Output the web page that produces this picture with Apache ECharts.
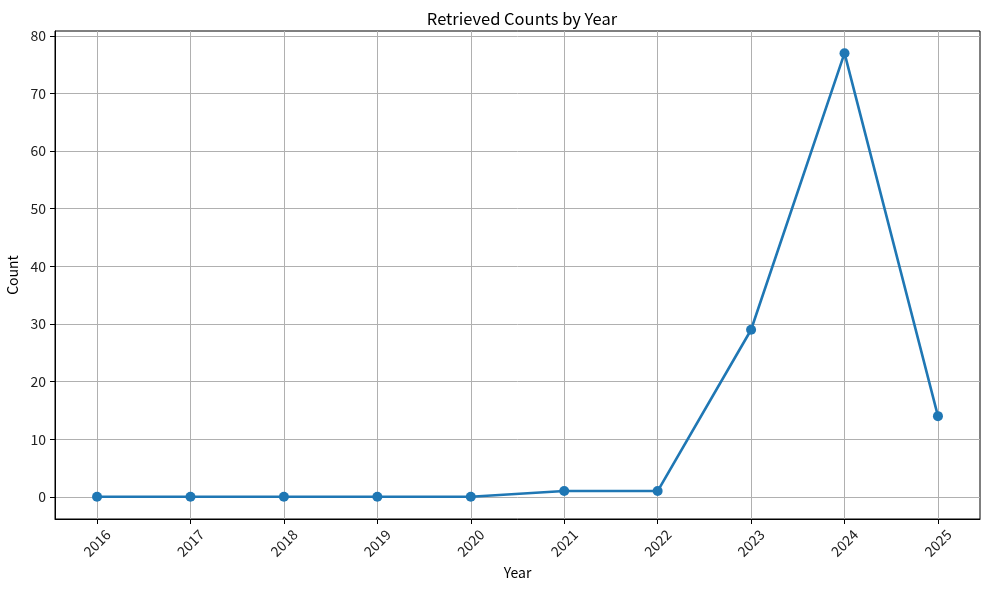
<!DOCTYPE html>
<html><head><meta charset="utf-8">
<script src="https://cdn.jsdelivr.net/npm/echarts@6/dist/echarts.min.js"></script>
<style>html,body{margin:0;padding:0;background:#fff}#c{width:989px;height:590px}</style>
</head><body><div id="c"></div>
<script>
const years = [2016, 2017, 2018, 2019, 2020, 2021, 2022, 2023, 2024, 2025];
const counts = [0, 0, 0, 0, 0, 1, 1, 29, 77, 14];
const yTicks = [0, 10, 20, 30, 40, 50, 60, 70, 80];
const titleText = 'Retrieved Counts by Year';
const xName = 'Year';
const yName = 'Count';

const FONT = '"Noto Sans CJK KR", "Noto Sans", sans-serif';
const chart = echarts.init(document.getElementById('c'), null, {renderer: 'canvas'});
const yMin = -3.85, yMax = 80.85;
chart.setOption({
  animation: false,
  backgroundColor: '#fff',
  title: {text: titleText, left: 517, top: 5, textAlign: 'center',
    textStyle: {fontFamily: FONT, fontSize: 16.5, fontWeight: 'normal', color: '#000'}},
  grid: {left: 55, right: 9, top: 31, bottom: 71, outerBoundsMode: 'none', containLabel: false,
    show: true, borderColor: '#000', borderWidth: 1, backgroundColor: 'transparent'},
  xAxis: {
    type: 'value', min: 2015.55, max: 2025.45,
    name: xName, nameLocation: 'middle', nameGap: 47,
    nameTextStyle: {fontFamily: FONT, fontSize: 14, color: '#000'},
    axisLine: {show: true, onZero: false, lineStyle: {color: '#000', width: 1}},
    axisTick: {show: true, length: 5, customValues: years, lineStyle: {color: '#000'}},
    axisLabel: {customValues: years, rotate: 45, margin: 24, align: 'center', verticalAlign: 'middle',
      fontFamily: FONT, fontSize: 14, color: '#222',
      formatter: v => String(Math.round(v))},
    splitLine: {show: true, lineStyle: {color: '#b0b0b0', width: 1}}
  },
  yAxis: {
    type: 'value', min: yMin, max: yMax,
    name: yName, nameLocation: 'middle', nameGap: 27, nameRotate: 90,
    nameTextStyle: {fontFamily: FONT, fontSize: 14, color: '#000'},
    axisLine: {show: true, lineStyle: {color: '#000', width: 1}},
    axisTick: {show: true, length: 5, customValues: yTicks, lineStyle: {color: '#000'}},
    axisLabel: {customValues: yTicks, margin: 9, fontFamily: FONT, fontSize: 14, color: '#222'},
    splitLine: {show: true, lineStyle: {color: '#b0b0b0', width: 1}}
  },
  series: [{
    type: 'line',
    data: years.map((y, i) => [y, counts[i]]),
    symbol: 'circle', symbolSize: 10,
    lineStyle: {color: '#1f77b4', width: 2.6},
    itemStyle: {color: '#1f77b4'},
    clip: false
  }]
});
</script></body></html>
